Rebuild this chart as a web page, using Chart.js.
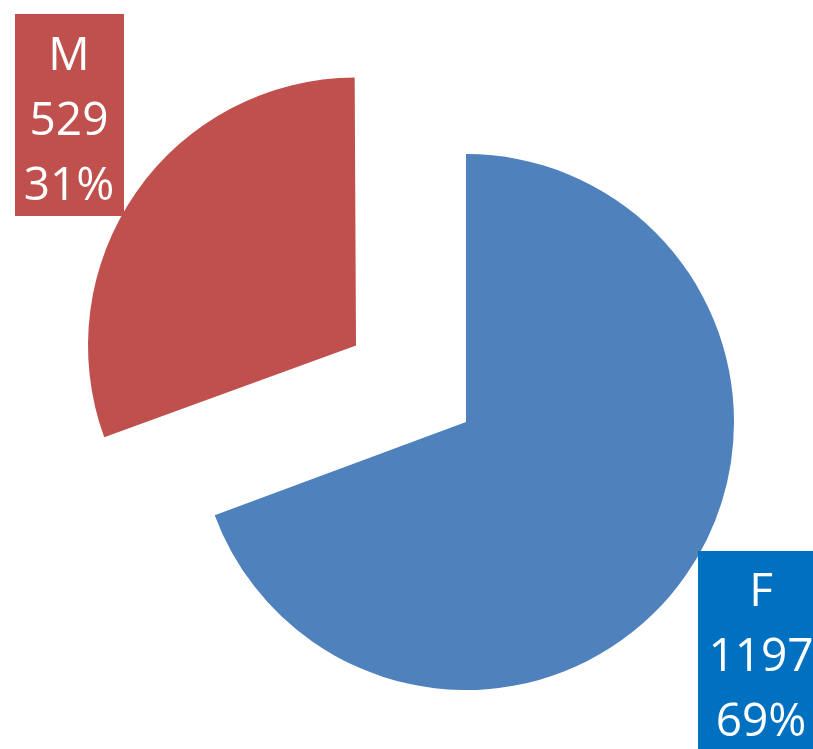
<!DOCTYPE html>
<html>
<head>
<meta charset="utf-8">
<script src="https://cdn.jsdelivr.net/npm/chart.js@4/dist/chart.umd.min.js"></script>
<style>
  html, body { margin: 0; padding: 0; background: #fff; }
  #wrap { width: 813px; height: 749px; position: relative; }
</style>
</head>
<body>
<div id="wrap"><canvas id="chart"></canvas></div>
<script>
const categories = ['F', 'M'];
const counts = [1197, 529];
const sliceColors = ['#4F81BD', '#C0504D'];
const labelColors = ['#0070C0', '#C0504D'];
// Chart.js v4 moves an arc by offset / 4, so 536 -> ~134px pull-out
const explode = [0, 536];

const total = counts.reduce((a, b) => a + b, 0);

// label boxes: [x, y, w, h, textCenterX, firstLineCenterY]
const labelBoxes = [
  [698, 551, 126, 198, 761, 589],
  [15, 14, 109, 202, 69, 53],
];

// v4 also grows an offset arc's radius a bit; undo that so the
// exploded slice keeps the same radius as the rest of the pie
const keepRadius = {
  id: 'keepRadius',
  afterDatasetUpdate(chart, args) {
    const meta = chart.getDatasetMeta(args.index);
    meta.data.forEach(arc => {
      const off = (arc.options.offset || 0) / 4;
      if (!off) return;
      const fix = 1 - Math.sin(Math.min(Math.PI, arc.circumference || 0));
      arc.outerRadius -= off * fix;
    });
  }
};

const labelBoxPlugin = {
  id: 'labelBoxes',
  afterDatasetsDraw(chart) {
    const ctx = chart.ctx;
    ctx.save();
    ctx.font = '46px "Open Sans"';
    ctx.textAlign = 'center';
    ctx.textBaseline = 'alphabetic';
    categories.forEach((cat, i) => {
      const [x, y, w, h, cx, cy] = labelBoxes[i];
      ctx.fillStyle = labelColors[i];
      ctx.fillRect(x, y, w, h);
      ctx.fillStyle = '#fff';
      const pct = Math.round(counts[i] / total * 100) + '%';
      [cat, String(counts[i]), pct].forEach((t, k) => {
        ctx.fillText(t, cx, cy + k * 65 + 16.5);
      });
    });
    ctx.restore();
  }
};

new Chart(document.getElementById('chart'), {
  type: 'pie',
  data: {
    labels: categories,
    datasets: [{
      data: counts,
      backgroundColor: sliceColors,
      borderWidth: 0,
      offset: explode,
      hoverOffset: 0,
    }],
  },
  options: {
    responsive: true,
    maintainAspectRatio: false,
    animation: false,
    radius: 268,
    layout: { padding: { left: 119, top: 95, right: 0, bottom: 0 } },
    plugins: {
      legend: { display: false },
      tooltip: { enabled: false },
    },
  },
  plugins: [keepRadius, labelBoxPlugin],
});
</script>
</body>
</html>
